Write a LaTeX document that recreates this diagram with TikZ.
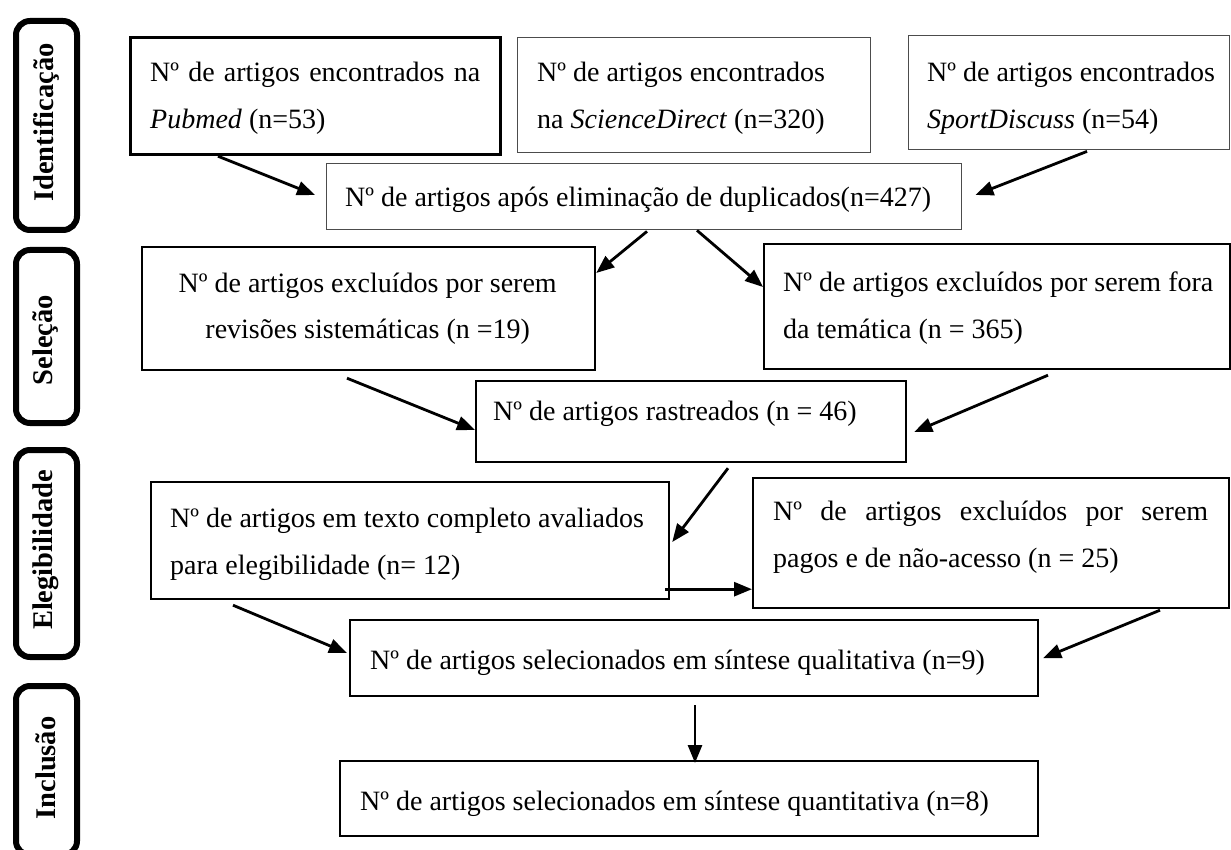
\documentclass[tikz,border=0pt]{standalone}
\usepackage{fontspec}
\setmainfont{Liberation Serif}
\usetikzlibrary{arrows.meta}
\begin{document}
\begin{tikzpicture}[x=1pt,y=-1pt,
  bx/.style={draw=black, line width=2.2pt, rectangle, inner sep=0pt, anchor=north west},
  bxthin/.style={bx, draw=black!70, line width=1.4pt},
  bxthick/.style={bx, line width=3.2pt},
  tx/.style={inner sep=0pt, anchor=base west, font=\fontsize{28}{47}\selectfont},
  lbox/.style={draw=black, line width=6pt, rounded corners=14pt, rectangle, inner sep=0pt, anchor=north west, minimum width=61pt},
  ltx/.style={inner sep=0pt, rotate=90, font=\fontsize{28.5}{34}\selectfont\bfseries},
  arr/.style={line width=2.8pt, -{Triangle[length=18pt,width=14pt]}}
]
\useasboundingbox (0,0) rectangle (1231,850);
\fill[white] (0,0) rectangle (1231,850);

% side labels
\node[lbox, minimum height=209pt] (lb1) at (13,18) {};
\node[lbox, minimum height=173pt] (lb2) at (13,247) {};
\node[lbox, minimum height=207pt] (lb3) at (13,447) {};
\node[lbox, minimum height=169pt] (lb4) at (13,683) {};
\node[ltx] (lt1) at (46,122.5) {Identificação};
\node[ltx] (lt2) at (46,340) {Seleção};
\node[ltx] (lt3) at (46,550) {Elegibilidade};
\node[ltx] (lt4) at (46,768) {Inclusão};

% boxes
\node[bxthick, minimum width=370pt, minimum height=117pt] (pub) at (129,36) {};
\node[bxthin, minimum width=353pt, minimum height=115pt] (sci) at (517,37) {};
\node[bxthin, minimum width=321pt, minimum height=114pt] (spo) at (908,35) {};
\node[bxthin, minimum width=635pt, minimum height=66pt] (dup) at (326,163) {};
\node[bx, minimum width=453pt, minimum height=123pt] (rev) at (141,246) {};
\node[bx, minimum width=466pt, minimum height=125pt] (fora) at (763,243) {};
\node[bx, minimum width=430pt, minimum height=81pt] (ras) at (475,380) {};
\node[bx, minimum width=518pt, minimum height=117pt] (tex) at (150,481) {};
\node[bx, minimum width=476pt, minimum height=130pt] (pag) at (752,477) {};
\node[bx, minimum width=688pt, minimum height=76pt] (qual) at (349,619) {};
\node[bx, minimum width=698pt, minimum height=75pt] (quan) at (339,760) {};

% texts
\node[tx] (pubT) at (150,82) {\parbox[t]{330pt}{\makebox[330pt][s]{Nº de artigos encontrados na}\\\textit{Pubmed} (n=53)}};
\node[tx] (sciT) at (537,82) {\parbox[t]{320pt}{Nº de artigos encontrados\\na \textit{ScienceDirect} (n=320)}};
\node[tx] (spoT) at (927,82) {\parbox[t]{300pt}{Nº de artigos encontrados\\\textit{SportDiscuss} (n=54)}};
\node[tx] (dupT) at (345,207) {Nº de artigos após eliminação de duplicados(n=427)};
\node[tx] (revT) at (167.5,292) {\parbox[t]{400pt}{\centering Nº de artigos excluídos por serem\\revisões sistemáticas (n =19)}};
\node[tx] (foraT) at (783,291) {\parbox[t]{440pt}{Nº de artigos excluídos por serem fora\\da temática (n = 365)}};
\node[tx] (rasT) at (493,420) {Nº de artigos rastreados (n = 46)};
\node[tx] (texT) at (170,527) {\parbox[t]{490pt}{Nº de artigos em texto completo avaliados\\para elegibilidade (n= 12)}};
\node[tx] (pagT) at (773,520) {\parbox[t]{435pt}{\makebox[435pt][s]{Nº de artigos excluídos por serem}\\pagos e de não-acesso (n = 25)}};
\node[tx] (qualT) at (370,669) {Nº de artigos selecionados em síntese qualitativa (n=9)};
\node[tx] (quanT) at (360,810) {Nº de artigos selecionados em síntese quantitativa (n=8)};

% arrows
\draw[arr] ([xshift=89pt]pub.south west) -- ([xshift=-11pt,yshift=-32pt]dup.north west);
\draw[arr] ([xshift=179pt,yshift=-1pt]spo.south west) -- ([xshift=13pt,yshift=-32pt]dup.north east);
\draw[arr] ([xshift=321pt,yshift=-1pt]dup.south west) -- ([yshift=-27pt]rev.north east);
\draw[arr] ([xshift=371pt]dup.south west) -- ([yshift=-44pt]fora.north west);
\draw[arr] ([xshift=206pt,yshift=-7pt]rev.south west) -- ([yshift=-50pt]ras.north west);
\draw[arr] ([xshift=285pt,yshift=-5pt]fora.south west) -- ([xshift=7pt,yshift=-52pt]ras.north east);
\draw[arr] ([xshift=253pt,yshift=-5pt]ras.south west) -- ([xshift=2pt,yshift=-61pt]tex.north east);
\draw[arr] ([xshift=-5pt,yshift=11pt]tex.south east) -- ([yshift=20pt]pag.south west);
\draw[arr] ([xshift=83pt,yshift=-5pt]tex.south west) -- ([xshift=-2pt,yshift=-34pt]qual.north west);
\draw[arr] ([xshift=408pt,yshift=-1pt]pag.south west) -- ([xshift=4pt]qual.east);
\draw[arr] ([xshift=346pt,yshift=-8pt]qual.south west) -- ([xshift=356pt,yshift=-3pt]quan.north west);
\end{tikzpicture}
\end{document}
